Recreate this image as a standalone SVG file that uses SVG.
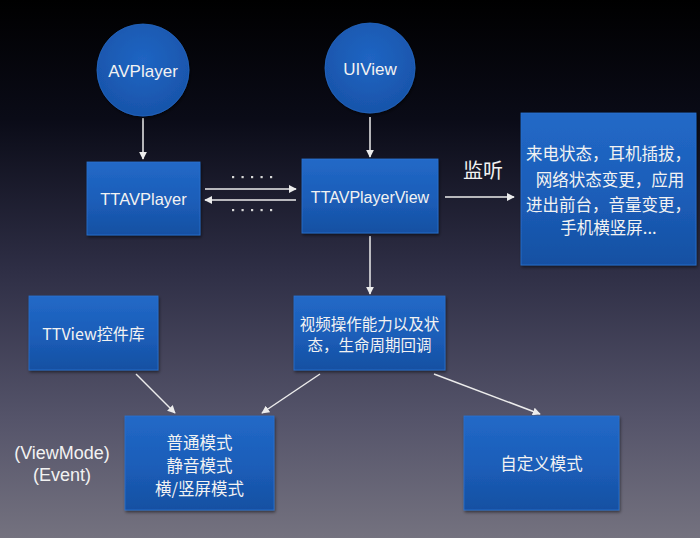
<svg xmlns="http://www.w3.org/2000/svg" width="700" height="538" viewBox="0 0 700 538">
<defs>
<linearGradient id="bg" x1="0" y1="0" x2="0" y2="1">
<stop offset="0" stop-color="#000000"/>
<stop offset="0.22" stop-color="#0a0b17"/>
<stop offset="0.5" stop-color="#2e2e45"/>
<stop offset="0.78" stop-color="#55546a"/>
<stop offset="1" stop-color="#74727f"/>
</linearGradient>
<linearGradient id="box" x1="0" y1="0" x2="0" y2="1">
<stop offset="0" stop-color="#2269c7"/>
<stop offset="0.55" stop-color="#1b5db8"/>
<stop offset="1" stop-color="#1650a2"/>
</linearGradient>
<radialGradient id="circ" cx="0.5" cy="0.4" r="0.6">
<stop offset="0" stop-color="#2065c3"/>
<stop offset="1" stop-color="#1854aa"/>
</radialGradient>
<filter id="sh" x="-10%" y="-10%" width="130%" height="130%">
<feDropShadow dx="1" dy="2" stdDeviation="1.5" flood-color="#000" flood-opacity="0.5"/>
</filter>
<marker id="ah" viewBox="0 0 10 10" refX="9" refY="5" markerWidth="8" markerHeight="8" markerUnits="userSpaceOnUse" orient="auto">
<path d="M0,0 L10,5 L0,10 z" fill="#ececec"/>
</marker>
</defs>
<style>
.box{fill:url(#box);stroke:#2b72cf;stroke-width:0.8;filter:url(#sh)}
.circ{fill:url(#circ);stroke:#2467c2;stroke-width:0.8;filter:url(#sh)}
.t{font-family:"Liberation Sans","Noto Sans CJK SC",sans-serif;fill:#f2f2f2;text-anchor:middle;dominant-baseline:central}
.c{font-family:"Noto Sans CJK SC","Liberation Sans",sans-serif;fill:#f2f2f2;text-anchor:middle;dominant-baseline:central}
.ln{stroke:#ececec;stroke-width:1.5;fill:none;marker-end:url(#ah)}
.dot{fill:#d8d8d8}
</style>
<rect x="0" y="0" width="700" height="538" fill="url(#bg)"/>

<g id="connectors">
<line class="ln" x1="143" y1="118" x2="143" y2="159"/>
<line class="ln" x1="370" y1="117" x2="370" y2="157"/>
<line class="ln" x1="205" y1="189" x2="296" y2="189"/>
<line class="ln" x1="296" y1="200" x2="205" y2="200"/>
<line class="ln" x1="445" y1="197" x2="514" y2="197"/>
<line class="ln" x1="370" y1="236" x2="370" y2="294"/>
<line class="ln" x1="136" y1="374" x2="175" y2="413"/>
<line class="ln" x1="320" y1="374" x2="262" y2="413"/>
<line class="ln" x1="434" y1="374" x2="540" y2="414"/>
<g class="dot">
<rect x="232" y="176" width="2.2" height="2.2"/>
<rect x="241.5" y="176" width="2.2" height="2.2"/>
<rect x="251" y="176" width="2.2" height="2.2"/>
<rect x="260.5" y="176" width="2.2" height="2.2"/>
<rect x="270" y="176" width="2.2" height="2.2"/>
<rect x="232" y="209" width="2.2" height="2.2"/>
<rect x="241.5" y="209" width="2.2" height="2.2"/>
<rect x="251" y="209" width="2.2" height="2.2"/>
<rect x="260.5" y="209" width="2.2" height="2.2"/>
<rect x="270" y="209" width="2.2" height="2.2"/>
</g>
<text class="c" x="483" y="169" font-size="20">监听</text>
</g>

<g id="avplayer">
<circle class="circ" cx="143" cy="70" r="46"/>
<text class="t" x="143" y="71" font-size="17">AVPlayer</text>
</g>
<g id="uiview">
<circle class="circ" cx="370" cy="68" r="45"/>
<text class="t" x="370" y="69" font-size="17">UIView</text>
</g>
<g id="ttavplayer">
<rect class="box" x="87" y="162" width="113" height="73"/>
<text class="t" x="143.5" y="199" font-size="16.5">TTAVPlayer</text>
</g>
<g id="ttavplayerview">
<rect class="box" x="302" y="159" width="136" height="74"/>
<text class="t" x="370" y="197" font-size="16">TTAVPlayerView</text>
</g>
<g id="events">
<rect class="box" x="521" y="113" width="175" height="152"/>
<text class="c" x="608.5" y="153" font-size="16.5">来电状态，耳机插拔，</text>
<text class="c" x="610" y="179" font-size="16.5">网络状态变更，应用</text>
<text class="c" x="608.5" y="204" font-size="16.5">进出前台，音量变更，</text>
<text class="c" x="608.5" y="227" font-size="16.5">手机横竖屏...</text>
</g>
<g id="ttview">
<rect class="box" x="29" y="296" width="129" height="74"/>
<text class="c" x="93.5" y="333" font-size="16">TTView控件库</text>
</g>
<g id="ability">
<rect class="box" x="294" y="296" width="151" height="74"/>
<text class="c" x="369.5" y="323" font-size="15.5">视频操作能力以及状</text>
<text class="c" x="369.5" y="344" font-size="15.5">态，生命周期回调</text>
</g>
<g id="modes">
<rect class="box" x="125" y="416" width="149" height="94"/>
<text class="c" x="199.5" y="442" font-size="16.5">普通模式</text>
<text class="c" x="199.5" y="465" font-size="16.5">静音模式</text>
<text class="c" x="199.5" y="488" font-size="16.5">横/竖屏模式</text>
</g>
<g id="custom">
<rect class="box" x="464" y="416" width="155" height="94"/>
<text class="c" x="541.5" y="463" font-size="16.5">自定义模式</text>
</g>
<g id="labels">
<text class="t" x="62" y="453" font-size="18">(ViewMode)</text>
<text class="t" x="62" y="475" font-size="18">(Event)</text>
</g>
</svg>
